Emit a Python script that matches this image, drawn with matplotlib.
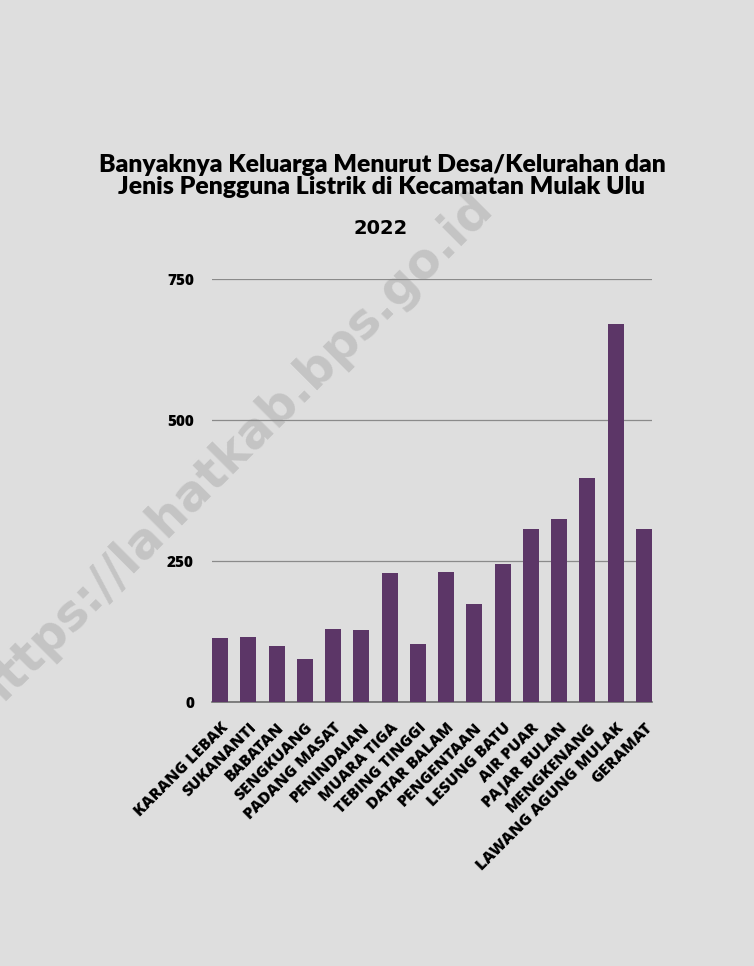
import numpy as np
import matplotlib
matplotlib.use("Agg")
import matplotlib.pyplot as plt

# data
desa = ["KARANG LEBAK", "SUKANANTI", "BABATAN", "SENGKUANG", "PADANG MASAT",
        "PENINDAIAN", "MUARA TIGA", "TEBING TINGGI", "DATAR BALAM", "PENGENTAAN",
        "LESUNG BATU", "AIR PUAR", "PAJAR BULAN", "MENGKENANG",
        "LAWANG AGUNG MULAK", "GERAMAT"]
keluarga = [113, 116, 100, 77, 129, 128, 229, 103, 231, 174,
            245, 306, 325, 397, 670, 306]
yticks = [0, 250, 500, 750]

title = "Banyaknya Keluarga Menurut Desa/Kelurahan dan\nJenis Pengguna Listrik di Kecamatan Mulak Ulu"
subtitle = "2022"
watermark = "https://lahatkab.bps.go.id"

bar_color = "#5c3667"
bg = "#dedede"

fig = plt.figure(figsize=(7.54, 9.66), dpi=100, facecolor=bg)
ax = fig.add_axes([212/754, 1 - 702/966, 440/754, 423/966])
ax.set_facecolor("none")

# watermark behind everything (cut at the left edge, as in the reference)
fig.text(232/754, 1 - 452/966, watermark, ha="center", va="center", rotation=45,
         fontsize=35, fontfamily="DejaVu Sans", fontweight="bold",
         color="#808080", alpha=0.28, zorder=0)

x = np.arange(len(desa))
w = 0.57
ax.bar(x, keluarga, width=w, color=bar_color, zorder=3)
ax.set_xlim(-w/2, len(desa) - 1 + w/2)
ax.set_ylim(0, 750)

ax.set_yticks(yticks)
ax.set_yticklabels([str(v) for v in yticks], fontfamily="Open Sans",
                   fontweight="heavy", fontsize=11, color="black")
ax.tick_params(axis="y", length=0, pad=13)
ax.yaxis.grid(True, color="#8a8a8a", linewidth=0.9, zorder=0)
ax.set_axisbelow(True)

ax.set_xticks(x)
ax.set_xticklabels(desa, rotation=45, ha="right", va="top", rotation_mode="anchor",
                   fontfamily="Open Sans", fontweight="heavy", fontsize=11.5, color="black")
ax.tick_params(axis="x", length=0, pad=13)

for s in ["top", "right", "left"]:
    ax.spines[s].set_visible(False)
ax.spines["bottom"].set_color("#6e6e6e")
ax.spines["bottom"].set_linewidth(1.2)

fig.text(382/754, 1 - 176/966, title, ha="center", va="center", fontsize=17.8,
         fontfamily="Lato", fontweight="heavy", color="black", linespacing=1.0)
fig.text(381/754, 1 - 228/966, subtitle, ha="center", va="center", fontsize=14,
         fontfamily="DejaVu Sans", fontweight="bold", color="black")

fig.savefig("out.png", dpi=100, facecolor=bg)
